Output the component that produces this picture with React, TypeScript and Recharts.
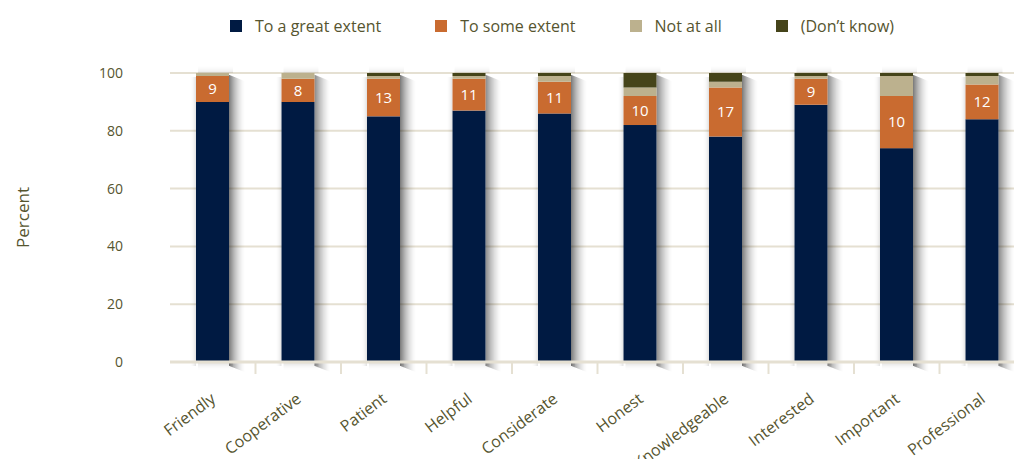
import { Bar, BarChart, CartesianGrid, Label, LabelList, Legend, XAxis, YAxis } from "recharts";

const categories = [
  "Friendly",
  "Cooperative",
  "Patient",
  "Helpful",
  "Considerate",
  "Honest",
  "Knowledgeable",
  "Interested",
  "Important",
  "Professional",
];
const greatExtent = [90, 90, 85, 87, 86, 82, 78, 89, 74, 84];
const someExtent = [9, 8, 13, 11, 11, 10, 17, 9, 18, 12];
const someExtentLabels = ["9", "8", "13", "11", "11", "10", "17", "9", "10", "12"];
const notAtAll = [1, 2, 1, 1, 2, 3, 2, 1, 7, 3];
const dontKnow = [0, 0, 1, 1, 1, 5, 3, 1, 1, 1];
const yTicks = [0, 20, 40, 60, 80, 100];

const series = [
  { key: "great", name: "To a great extent", color: "#001a42" },
  { key: "some", name: "To some extent", color: "#c96b30" },
  { key: "not", name: "Not at all", color: "#bcb18e" },
  { key: "dk", name: "(Don\u2019t know)", color: "#45441a" },
];

const data = categories.map((name, i) => ({
  name,
  great: greatExtent[i],
  some: someExtent[i],
  someLabel: someExtentLabels[i],
  not: notAtAll[i],
  dk: dontKnow[i],
  total: greatExtent[i] + someExtent[i] + notAtAll[i] + dontKnow[i],
}));

const TEXT = "#56552f";
const GRID = "#e5e0d2";
const FONT = "'Open Sans', 'Noto Sans', sans-serif";
const SHADOW_STEPS = [0, 1, 2, 3, 4, 5, 6, 7, 8, 9, 10, 11, 12, 13, 14, 15];

function XTick(props: any) {
  const { x, y, payload, index } = props;
  const half = payload?.offset ?? 42.75;
  return (
    <g>
      {index > 0 && <line x1={x - half} x2={x - half} y1={y - 8} y2={y + 4} stroke={GRID} strokeWidth={2} />}
      <g transform={`translate(${x + 4},${y + 31})`}>
        <text textAnchor="end" transform="rotate(-37)" fill={TEXT} fontSize={16} fontFamily={FONT}>
          {payload.value}
        </text>
      </g>
    </g>
  );
}

function LegendContent() {
  return (
    <div style={{ display: "flex", paddingLeft: 230, fontFamily: FONT, fontSize: 16, color: TEXT }}>
      {series.map((s) => (
        <div key={s.key} style={{ display: "flex", alignItems: "center", marginRight: 54 }}>
          <span style={{ width: 12, height: 12, background: s.color, display: "inline-block", marginRight: 13 }} />
          <span>{s.name}</span>
        </div>
      ))}
    </div>
  );
}

// bottom segment also paints a soft shadow round the whole stacked column
function GreatShape(p: any) {
  const { x, y, width, height, payload } = p;
  const perUnit = payload.great ? height / payload.great : 0;
  const full = perUnit * payload.total;
  const top = y + height - full;
  const bottom = y + height;
  const n = SHADOW_STEPS.length;
  return (
    <g>
      {SHADOW_STEPS.map((i) => (
        <rect
          key={`r${i}`}
          x={x + width + i}
          y={top + 2 + i * 0.4}
          width={1}
          height={full + 2}
          fill="#000"
          fillOpacity={0.5 * Math.pow(1 - i / n, 1.7)}
        />
      ))}
      {SHADOW_STEPS.slice(0, 6).map((i) => (
        <rect key={`l${i}`} x={x - 1 - i} y={top + 4} width={1} height={full} fill="#000" fillOpacity={0.1 * Math.pow(1 - i / 6, 2)} />
      ))}
      {SHADOW_STEPS.slice(0, 8).map((i) => (
        <rect key={`t${i}`} x={x + 2} y={top - 1 - i} width={width + 2} height={1} fill="#000" fillOpacity={0.08 * Math.pow(1 - i / 8, 2)} />
      ))}
      {SHADOW_STEPS.slice(0, 9).map((i) => (
        <rect key={`b${i}`} x={x + 2} y={bottom + i} width={width + 2} height={1} fill="#000" fillOpacity={0.12 * Math.pow(1 - i / 9, 2)} />
      ))}
      <rect x={x} y={y} width={width} height={height} fill={series[0].color} />
    </g>
  );
}

export default function App() {
  return (
    <div style={{ position: "fixed", left: 0, top: 0, width: 1014, height: 459, overflow: "hidden", background: "#fff" }}>
      <BarChart
        width={1030}
        height={459}
        data={data}
        margin={{ top: 0, right: 5, left: 0, bottom: 0 }}
        barSize={33}
      >
        <Legend verticalAlign="top" align="left" height={73} content={<LegendContent />} wrapperStyle={{ top: 15 }} />
        <CartesianGrid vertical={false} stroke={GRID} strokeWidth={2} />
        <XAxis
          dataKey="name"
          axisLine={{ stroke: GRID, strokeWidth: 3 }}
          tickLine={false}
          interval={0}
          height={97}
          tick={<XTick />}
        />
        <YAxis
          domain={[0, 100]}
          ticks={yTicks}
          width={170}
          axisLine={false}
          tickLine={false}
          tickSize={0}
          tickMargin={47}
          tick={{ fill: TEXT, fontSize: 14, fontFamily: FONT }}
        >
          <Label
            content={(p: any) => {
              const vb = p.viewBox || { x: 0, y: 73, height: 289 };
              const cx = 22;
              const cy = vb.y + vb.height / 2;
              return (
                <text x={cx} y={cy} transform={`rotate(-90 ${cx} ${cy})`} textAnchor="middle" dominantBaseline="central" fill={TEXT} fontSize={17} fontFamily={FONT}>
                  Percent
                </text>
              );
            }}
          />
        </YAxis>
        <Bar dataKey="great" name={series[0].name} stackId="a" fill={series[0].color} isAnimationActive={false} shape={(p: any) => <GreatShape {...p} />} />
        <Bar dataKey="some" name={series[1].name} stackId="a" fill={series[1].color} isAnimationActive={false}>
          <LabelList dataKey="someLabel" position="center" fill="#ffffff" fontSize={15} fontFamily={FONT} />
        </Bar>
        <Bar dataKey="not" name={series[2].name} stackId="a" fill={series[2].color} isAnimationActive={false} />
        <Bar dataKey="dk" name={series[3].name} stackId="a" fill={series[3].color} isAnimationActive={false} />
      </BarChart>
    </div>
  );
}
